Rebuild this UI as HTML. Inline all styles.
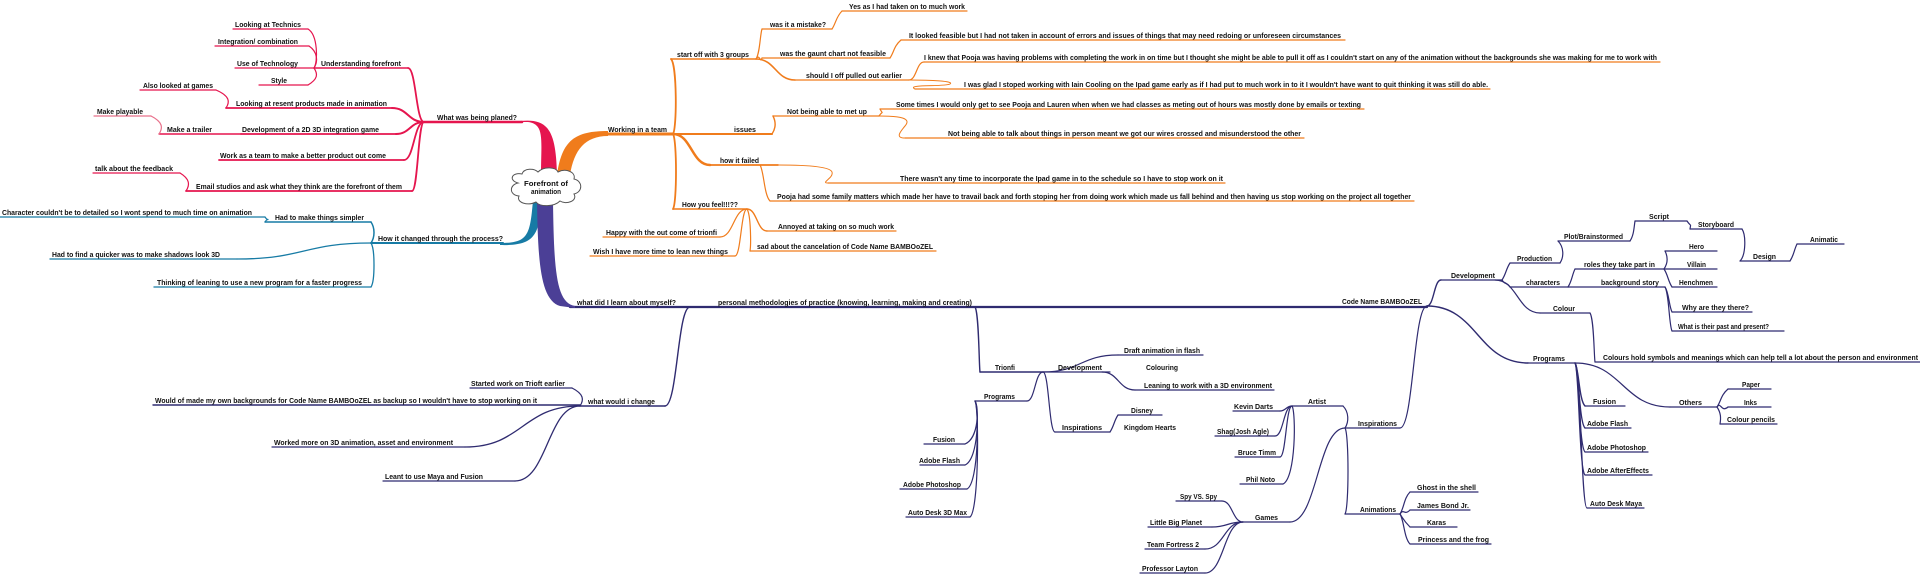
<!DOCTYPE html>
<html><head><meta charset="utf-8">
<style>
html,body{margin:0;padding:0;background:#fff;}
svg{display:block;}
text{font-family:"Liberation Sans",Arial,sans-serif;font-size:7.5px;font-weight:bold;fill:#111;}
</style></head>
<body>
<svg id="s" width="1920" height="574" viewBox="0 0 1920 574" xmlns="http://www.w3.org/2000/svg">
<g id="lines" fill="none" stroke-linecap="round"></g>
<!-- trunks -->
<path d="M541 175 C541 140 545 124 528 122 L520 122 L520 121 C548 118 556 130 557 175 Z" fill="#e5154e"/>
<path d="M557 175 C562 140 575 131 608 131 L608 136 C585 136 574 150 570 175 Z" fill="#f07c1c"/>
<path d="M533 200 C530 236 528 243 500 243 L500 245 C534 246 540 236 541 200 Z" fill="#177ba5"/>
<path d="M537 202 C538 260 540 300 560 306 L575 308 L575 306 C556 303 554 270 553 202 Z" fill="#4b3f96"/>
<!-- cloud -->
<path d="M518 183 C508 180 512 172 522 174 C524 168 534 168 538 172 C544 166 556 167 558 172 C566 168 576 172 574 179 C583 181 583 192 574 194 C578 201 566 205 560 201 C554 207 540 207 536 202 C528 206 516 203 519 196 C509 195 509 185 518 183 Z" fill="#fff" stroke="#555" stroke-width="1"/>
<text x="524" y="186" textLength="44" lengthAdjust="spacingAndGlyphs">Forefront of</text>
<text x="531" y="194" textLength="30" lengthAdjust="spacingAndGlyphs">animation</text>

<g id="texts">
<!-- red -->
<text x="235" y="27" textLength="66" lengthAdjust="spacingAndGlyphs">Looking at Technics</text>
<text x="218" y="44" textLength="80" lengthAdjust="spacingAndGlyphs">Integration/ combination</text>
<text x="237" y="66" textLength="61" lengthAdjust="spacingAndGlyphs">Use of Technology</text>
<text x="271" y="83" textLength="16" lengthAdjust="spacingAndGlyphs">Style</text>
<text x="321" y="66" textLength="80" lengthAdjust="spacingAndGlyphs">Understanding forefront</text>
<text x="143" y="88" textLength="70" lengthAdjust="spacingAndGlyphs">Also looked at games</text>
<text x="236" y="106" textLength="151" lengthAdjust="spacingAndGlyphs">Looking at resent products made in animation</text>
<text x="97" y="114" textLength="46" lengthAdjust="spacingAndGlyphs">Make playable</text>
<text x="167" y="132" textLength="45" lengthAdjust="spacingAndGlyphs">Make a trailer</text>
<text x="242" y="132" textLength="137" lengthAdjust="spacingAndGlyphs">Development of a 2D 3D integration game</text>
<text x="220" y="158" textLength="166" lengthAdjust="spacingAndGlyphs">Work as a team to make a better product out come</text>
<text x="95" y="171" textLength="78" lengthAdjust="spacingAndGlyphs">talk about the feedback</text>
<text x="196" y="189" textLength="206" lengthAdjust="spacingAndGlyphs">Email studios and ask what they think are the forefront of them</text>
<text x="437" y="120" textLength="80" lengthAdjust="spacingAndGlyphs">What was being planed?</text>
<!-- blue -->
<text x="2" y="215" textLength="250" lengthAdjust="spacingAndGlyphs">Character couldn't be to detailed so I wont spend to much time on animation</text>
<text x="275" y="220" textLength="89" lengthAdjust="spacingAndGlyphs">Had to make things simpler</text>
<text x="378" y="241" textLength="125" lengthAdjust="spacingAndGlyphs">How it changed through the process?</text>
<text x="52" y="257" textLength="168" lengthAdjust="spacingAndGlyphs">Had to find a quicker was to make shadows look 3D</text>
<text x="157" y="285" textLength="205" lengthAdjust="spacingAndGlyphs">Thinking of leaning to use a new program for a faster progress</text>
<!-- orange -->
<text x="608" y="132" textLength="59" lengthAdjust="spacingAndGlyphs">Working in a team</text>
<text x="677" y="57" textLength="72" lengthAdjust="spacingAndGlyphs">start off with 3 groups</text>
<text x="770" y="27" textLength="56" lengthAdjust="spacingAndGlyphs">was it a mistake?</text>
<text x="849" y="9" textLength="116" lengthAdjust="spacingAndGlyphs">Yes as I had taken on to much work</text>
<text x="780" y="56" textLength="106" lengthAdjust="spacingAndGlyphs">was the gaunt chart not feasible</text>
<text x="909" y="38" textLength="432" lengthAdjust="spacingAndGlyphs">It looked feasible but I had not taken in account of errors and issues of things that may need redoing or unforeseen circumstances</text>
<text x="806" y="78" textLength="96" lengthAdjust="spacingAndGlyphs">should I off pulled out earlier</text>
<text x="924" y="60" textLength="733" lengthAdjust="spacingAndGlyphs">I knew that Pooja was having problems with completing the work in on time but I thought she might be able to pull it off as I couldn't start on any of the animation without the backgrounds she was making for me to work with</text>
<text x="964" y="87" textLength="524" lengthAdjust="spacingAndGlyphs">I was glad I stoped working with Iain Cooling  on the Ipad game early as if I had put to much work in to it I wouldn't have want to quit thinking it was still do able.</text>
<text x="734" y="132" textLength="22" lengthAdjust="spacingAndGlyphs">issues</text>
<text x="787" y="114" textLength="80" lengthAdjust="spacingAndGlyphs">Not being able to met up</text>
<text x="896" y="107" textLength="465" lengthAdjust="spacingAndGlyphs">Some times I would only get to see Pooja and Lauren when when we had classes as meting out of hours was mostly done by emails or texting</text>
<text x="948" y="136" textLength="353" lengthAdjust="spacingAndGlyphs">Not being able to talk about things in person meant we got our wires crossed and misunderstood the other</text>
<text x="720" y="163" textLength="39" lengthAdjust="spacingAndGlyphs">how it failed</text>
<text x="900" y="181" textLength="323" lengthAdjust="spacingAndGlyphs">There wasn't any time to incorporate the Ipad game in to the schedule so I have to stop work on it</text>
<text x="777" y="199" textLength="634" lengthAdjust="spacingAndGlyphs">Pooja had some family matters which made her have to travail back and forth stoping her from doing work which made us fall behind and then having us stop working on the project all together</text>
<text x="682" y="207" textLength="56" lengthAdjust="spacingAndGlyphs">How you feel!!!??</text>
<text x="606" y="235" textLength="111" lengthAdjust="spacingAndGlyphs">Happy with the out come of trionfi</text>
<text x="593" y="254" textLength="135" lengthAdjust="spacingAndGlyphs">Wish I have more time to lean new things</text>
<text x="778" y="229" textLength="116" lengthAdjust="spacingAndGlyphs">Annoyed at taking on so much work</text>
<text x="757" y="249" textLength="176" lengthAdjust="spacingAndGlyphs">sad about the cancelation of Code Name BAMBOoZEL</text>
<!-- purple left -->
<text x="577" y="305" textLength="99" lengthAdjust="spacingAndGlyphs">what did I learn about myself?</text>
<text x="718" y="305" textLength="254" lengthAdjust="spacingAndGlyphs">personal methodologies of practice (knowing, learning, making and creating)</text>
<text x="588" y="404" textLength="67" lengthAdjust="spacingAndGlyphs">what would i change</text>
<text x="471" y="386" textLength="94" lengthAdjust="spacingAndGlyphs">Started work on Trioft earlier</text>
<text x="155" y="403" textLength="382" lengthAdjust="spacingAndGlyphs">Would of made my own backgrounds for Code Name BAMBOoZEL as backup so I wouldn't have to stop working on it</text>
<text x="274" y="445" textLength="179" lengthAdjust="spacingAndGlyphs">Worked more on 3D animation, asset and environment</text>
<text x="385" y="479" textLength="98" lengthAdjust="spacingAndGlyphs">Leant to use Maya and Fusion</text>
<!-- trionfi -->
<text x="995" y="370" textLength="20" lengthAdjust="spacingAndGlyphs">Trionfi</text>
<text x="1058" y="370" textLength="44" lengthAdjust="spacingAndGlyphs">Development</text>
<text x="1124" y="353" textLength="76" lengthAdjust="spacingAndGlyphs">Draft animation in flash</text>
<text x="1146" y="370" textLength="32" lengthAdjust="spacingAndGlyphs">Colouring</text>
<text x="1144" y="388" textLength="128" lengthAdjust="spacingAndGlyphs">Leaning to work with a 3D environment</text>
<text x="984" y="399" textLength="31" lengthAdjust="spacingAndGlyphs">Programs</text>
<text x="1062" y="430" textLength="40" lengthAdjust="spacingAndGlyphs">Inspirations</text>
<text x="1131" y="413" textLength="22" lengthAdjust="spacingAndGlyphs">Disney</text>
<text x="1124" y="430" textLength="52" lengthAdjust="spacingAndGlyphs">Kingdom Hearts</text>
<text x="933" y="442" textLength="22" lengthAdjust="spacingAndGlyphs">Fusion</text>
<text x="919" y="463" textLength="41" lengthAdjust="spacingAndGlyphs">Adobe Flash</text>
<text x="903" y="487" textLength="58" lengthAdjust="spacingAndGlyphs">Adobe Photoshop</text>
<text x="908" y="515" textLength="59" lengthAdjust="spacingAndGlyphs">Auto Desk 3D Max</text>
<!-- code name -->
<text x="1342" y="304" textLength="80" lengthAdjust="spacingAndGlyphs">Code Name BAMBOoZEL</text>
<text x="1451" y="278" textLength="44" lengthAdjust="spacingAndGlyphs">Development</text>
<text x="1517" y="261" textLength="35" lengthAdjust="spacingAndGlyphs">Production</text>
<text x="1564" y="239" textLength="59" lengthAdjust="spacingAndGlyphs">Plot/Brainstormed</text>
<text x="1649" y="219" textLength="20" lengthAdjust="spacingAndGlyphs">Script</text>
<text x="1698" y="227" textLength="36" lengthAdjust="spacingAndGlyphs">Storyboard</text>
<text x="1753" y="259" textLength="23" lengthAdjust="spacingAndGlyphs">Design</text>
<text x="1810" y="242" textLength="28" lengthAdjust="spacingAndGlyphs">Animatic</text>
<text x="1526" y="285" textLength="34" lengthAdjust="spacingAndGlyphs">characters</text>
<text x="1584" y="267" textLength="71" lengthAdjust="spacingAndGlyphs">roles they take part in</text>
<text x="1689" y="249" textLength="15" lengthAdjust="spacingAndGlyphs">Hero</text>
<text x="1687" y="267" textLength="19" lengthAdjust="spacingAndGlyphs">Villain</text>
<text x="1679" y="285" textLength="34" lengthAdjust="spacingAndGlyphs">Henchmen</text>
<text x="1601" y="285" textLength="58" lengthAdjust="spacingAndGlyphs">background story</text>
<text x="1682" y="310" textLength="67" lengthAdjust="spacingAndGlyphs">Why are they there?</text>
<text x="1678" y="329" textLength="91" lengthAdjust="spacingAndGlyphs">What is their past and present?</text>
<text x="1553" y="311" textLength="22" lengthAdjust="spacingAndGlyphs">Colour</text>
<text x="1603" y="360" textLength="315" lengthAdjust="spacingAndGlyphs">Colours hold symbols and meanings which can help tell a lot about the person and environment</text>
<text x="1533" y="361" textLength="32" lengthAdjust="spacingAndGlyphs">Programs</text>
<text x="1679" y="405" textLength="23" lengthAdjust="spacingAndGlyphs">Others</text>
<text x="1742" y="387" textLength="18" lengthAdjust="spacingAndGlyphs">Paper</text>
<text x="1744" y="405" textLength="13" lengthAdjust="spacingAndGlyphs">Inks</text>
<text x="1727" y="422" textLength="48" lengthAdjust="spacingAndGlyphs">Colour pencils</text>
<text x="1593" y="404" textLength="23" lengthAdjust="spacingAndGlyphs">Fusion</text>
<text x="1587" y="426" textLength="41" lengthAdjust="spacingAndGlyphs">Adobe Flash</text>
<text x="1587" y="450" textLength="59" lengthAdjust="spacingAndGlyphs">Adobe Photoshop</text>
<text x="1587" y="473" textLength="62" lengthAdjust="spacingAndGlyphs">Adobe AfterEffects</text>
<text x="1590" y="506" textLength="52" lengthAdjust="spacingAndGlyphs">Auto Desk Maya</text>
<text x="1358" y="426" textLength="39" lengthAdjust="spacingAndGlyphs">Inspirations</text>
<text x="1308" y="404" textLength="18" lengthAdjust="spacingAndGlyphs">Artist</text>
<text x="1234" y="409" textLength="39" lengthAdjust="spacingAndGlyphs">Kevin Darts</text>
<text x="1217" y="434" textLength="52" lengthAdjust="spacingAndGlyphs">Shag(Josh Agle)</text>
<text x="1238" y="455" textLength="38" lengthAdjust="spacingAndGlyphs">Bruce Timm</text>
<text x="1246" y="482" textLength="29" lengthAdjust="spacingAndGlyphs">Phil Noto</text>
<text x="1255" y="520" textLength="23" lengthAdjust="spacingAndGlyphs">Games</text>
<text x="1180" y="499" textLength="37" lengthAdjust="spacingAndGlyphs">Spy VS. Spy</text>
<text x="1150" y="525" textLength="52" lengthAdjust="spacingAndGlyphs">Little Big Planet</text>
<text x="1147" y="547" textLength="52" lengthAdjust="spacingAndGlyphs">Team Fortress 2</text>
<text x="1142" y="571" textLength="56" lengthAdjust="spacingAndGlyphs">Professor Layton</text>
<text x="1360" y="512" textLength="36" lengthAdjust="spacingAndGlyphs">Animations</text>
<text x="1417" y="490" textLength="59" lengthAdjust="spacingAndGlyphs">Ghost in the shell</text>
<text x="1417" y="508" textLength="52" lengthAdjust="spacingAndGlyphs">James Bond Jr.</text>
<text x="1427" y="525" textLength="19" lengthAdjust="spacingAndGlyphs">Karas</text>
<text x="1418" y="542" textLength="71" lengthAdjust="spacingAndGlyphs">Princess and the frog</text>
</g>
</svg>
<script>
var g=document.getElementById('lines');
var R='#e5154e',O='#f07c1c',B='#177ba5',N='#2f2b70',P='#e8708a';
function P_(d,c,w){var p=document.createElementNS('http://www.w3.org/2000/svg','path');p.setAttribute('d',d);p.setAttribute('stroke',c);p.setAttribute('stroke-width',w);g.appendChild(p);}
function U(x1,x2,y,c,w){P_('M'+x1+' '+y+' L'+x2+' '+y,c,w||1.2);}
function C(ax,ay,bx,by,c,w){var m=(ax+bx)/2;if(Math.abs(bx-ax)<12){var d=(by>ay?1:-1);P_('M'+ax+' '+ay+' C'+(ax+4)+' '+(ay+d*6)+' '+(ax+4)+' '+(by-d*6)+' '+bx+' '+by,c,w||1.2);return;}P_('M'+ax+' '+ay+' C'+m+' '+ay+' '+m+' '+by+' '+bx+' '+by,c,w||1.2);}
// red
U(424,522,122,R,2.5);
U(233,308,29,R);U(215,309,46,R);U(235,314,68,R);U(259,308,85,R);U(314,408,68,R,1.6);
U(140,216,90,R);U(226,392,108,R,1.8);U(94,151,116,P);U(159,241,134,R,1.4);U(241,396,134,R,1.8);
U(219,404,160,R,1.8);U(93,180,173,R);U(186,412,191,R,1.8);
C(424,122,408,68,R,1.8);C(424,122,392,108,R,2);C(424,122,396,134,R,2);C(424,122,404,160,R,1.8);C(424,122,412,191,R,1.8);
C(314,68,308,29,R);C(314,68,309,46,R);C(314,68,308,85,R);
C(226,108,216,90,R);C(159,134,151,116,P);C(186,191,180,173,R);
// blue
U(371,503,243,B,2);U(265,371,222,B,1.4);U(0,265,217,B);U(50,237,259,B,1.3);U(154,371,287,B,1.3);
C(371,243,371,222,B,1.5);C(371,243,237,259,B,1.3);C(371,243,371,287,B,1.3);C(265,222,265,217,B);
// orange
U(606,673,134,O,3);U(673,772,134,O,2);
U(671,756,59,O,1.6);U(762,832,29,O);U(842,967,11,O);U(762,890,58,O);U(901,1345,40,O);U(795,909,80,O,1.3);
U(924,1660,62,O);U(915,1490,89,O);U(773,879,116,O,1.3);U(880,1364,109,O);U(905,1304,138,O);
U(710,778,165,O,1.8);U(828,1225,183,O);U(770,1414,201,O);U(673,747,209,O,1.6);
U(603,720,237,O);U(590,735,256,O);U(767,896,231,O);U(750,936,251,O);
C(673,134,671,59,O,1.8);C(673,134,710,165,O,2.5);C(673,134,673,209,O,1.8);
C(756,59,762,29,O);C(756,59,762,58,O);C(756,59,795,80,O,1.6);C(832,29,842,11,O);C(890,58,901,40,O);
C(909,80,924,62,O);
P_('M909 80 C930 80 955 81 950 84 C945 87 905 84 915 89',O,1);
C(772,134,773,116,O,1.4);C(879,116,880,109,O);
P_('M879 116 C900 116 912 118 905 126 C900 132 895 138 905 138',O,1);
P_('M778 165 C800 165 830 166 832 172 C834 178 820 183 828 183',O,1);
C(760,165,770,201,O);
C(747,209,767,231,O,1.4);C(747,209,750,251,O);C(747,209,720,237,O);C(747,209,735,256,O);
// navy
U(570,1427,307,N,2.2);
C(690,307,665,406,N,1.4);U(580,665,406,N,1.6);
U(470,572,388,N);U(153,580,405,N,1.4);U(272,465,447,N);U(383,515,481,N);
C(580,406,572,388,N);C(580,406,465,447,N,1.3);C(580,406,515,481,N,1.3);
C(975,307,980,372,N,1.4);U(980,1043,372,N,1.4);U(1043,1110,372,N,1.2);
U(1118,1203,355,N);U(1135,1274,390,N);U(1055,1110,432,N);U(1118,1162,415,N);U(975,1027,401,N);
U(924,965,444,N);U(920,965,465,N);U(900,967,489,N);U(906,970,517,N);
C(1043,372,1118,355,N);C(1102,372,1135,390,N);C(1043,372,1055,432,N);C(1043,372,1027,401,N);
C(1110,432,1118,415,N);
C(975,401,965,444,N);C(975,401,965,465,N);C(975,401,967,489,N);C(975,401,970,517,N);
// code name
C(1427,306,1441,280,N,1.4);U(1441,1502,280,N,1.3);
U(1510,1560,263,N);U(1558,1630,241,N);U(1635,1687,221,N);U(1690,1742,229,N);U(1740,1790,261,N);U(1797,1844,244,N);
U(1510,1568,287,N);U(1575,1664,269,N);U(1665,1717,251,N);U(1665,1717,269,N);U(1672,1717,287,N);U(1568,1665,287,N);
U(1672,1752,312,N);U(1672,1784,331,N);U(1540,1590,313,N);U(1595,1920,362,N);
C(1502,280,1510,263,N);C(1502,280,1510,287,N);C(1495,280,1540,313,N);
C(1560,263,1558,241,N);C(1630,241,1635,221,N);C(1687,221,1690,229,N);C(1742,229,1740,261,N);C(1790,261,1797,244,N);
C(1568,287,1575,269,N);C(1664,269,1665,251,N);C(1664,269,1672,287,N);
C(1665,287,1672,312,N);C(1665,287,1672,331,N);C(1590,313,1595,362,N);
C(1427,306,1528,363,N,1.4);U(1528,1575,363,N,1.3);
U(1585,1625,406,N);U(1585,1631,428,N);U(1585,1648,452,N);U(1585,1652,475,N);U(1587,1644,508,N);
U(1670,1717,407,N);U(1728,1771,389,N);U(1728,1771,407,N);U(1720,1777,424,N);
C(1575,363,1585,406,N,1.4);C(1575,363,1585,428,N,1.3);C(1575,363,1585,452,N,1.2);C(1575,363,1585,475,N);C(1575,363,1587,508,N);
C(1575,363,1670,407,N);
C(1717,407,1728,389,N);C(1717,407,1728,407,N);C(1717,407,1720,424,N);
C(1427,306,1400,428,N);U(1345,1400,428,N);
U(1292,1343,406,N);U(1233,1280,411,N);U(1215,1275,436,N);U(1235,1280,457,N);U(1240,1283,484,N);
U(1243,1290,522,N);U(1176,1222,501,N);U(1148,1212,527,N);U(1145,1205,549,N);U(1140,1205,573,N);
U(1345,1400,514,N);U(1410,1478,492,N);U(1410,1470,510,N);U(1410,1457,527,N);U(1410,1491,544,N);
C(1345,428,1343,406,N);C(1345,428,1290,522,N);C(1345,428,1345,514,N);
C(1292,406,1280,411,N);C(1292,406,1275,436,N);C(1292,406,1280,457,N);C(1292,406,1283,484,N);
C(1243,522,1222,501,N);C(1243,522,1212,527,N);C(1243,522,1205,549,N);C(1243,522,1205,573,N);
C(1400,514,1410,492,N);C(1400,514,1410,510,N);C(1400,514,1410,527,N);C(1400,514,1410,544,N);
</script>
</body></html>
